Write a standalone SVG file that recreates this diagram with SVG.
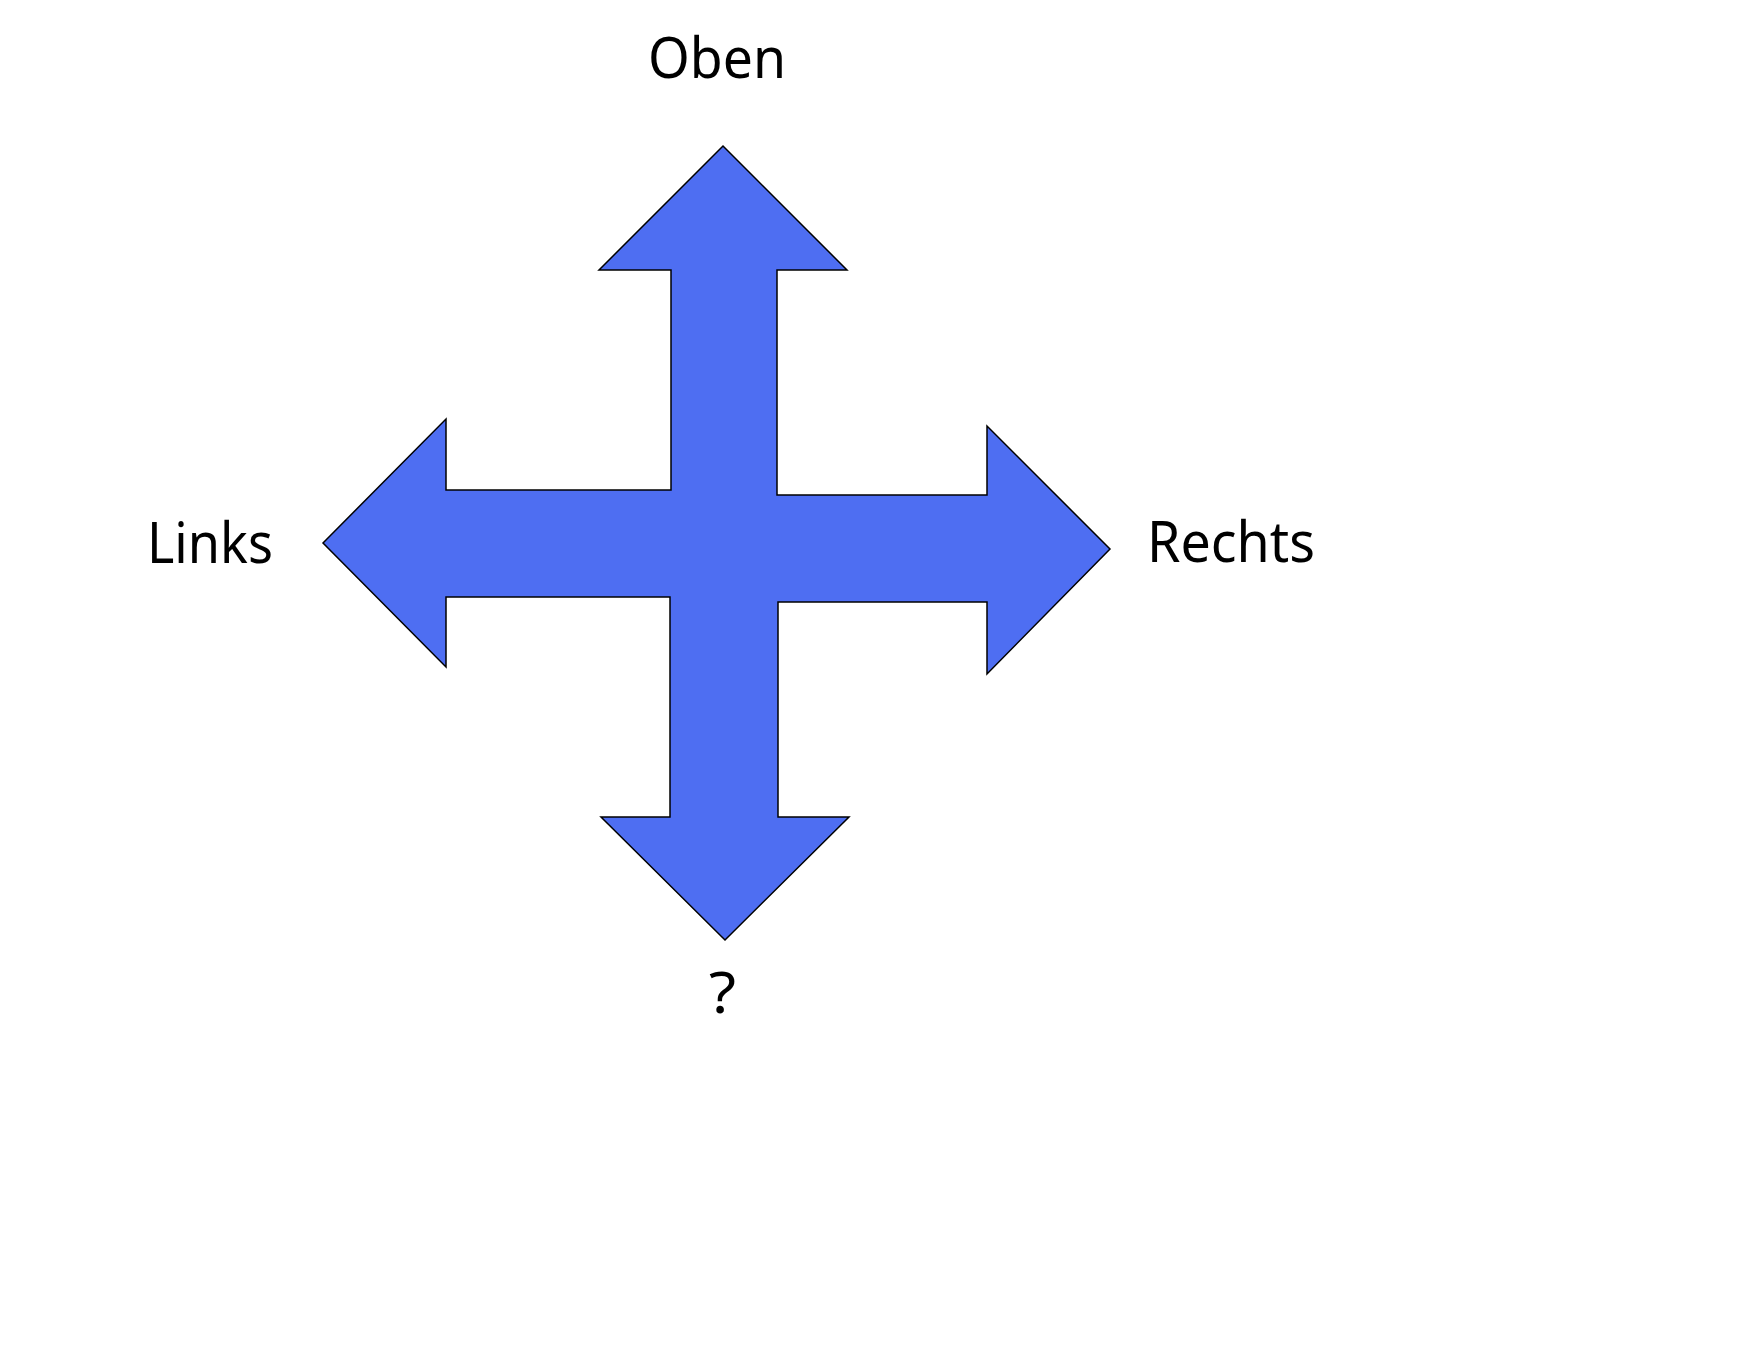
<svg xmlns="http://www.w3.org/2000/svg" width="1752" height="1360" viewBox="0 0 1752 1360">
<style>
.lbl{font-family:"Noto Sans","Open Sans","Liberation Sans",sans-serif;font-size:57px;fill:#000}
.arrow{fill:#4E6EF2;stroke:#000;stroke-width:1.5;stroke-linejoin:miter}
</style>
<rect width="1752" height="1360" fill="#fff"/>
<g id="cross-arrow">
<polygon class="arrow" points="723,146 847,270 777,270 777,495 987,495 987,426 1110,549 987,674 987,602 778,602 778,817 849,817 725,940 601,817 670,817 670,597 446,597 446,667 323,543 446,419 446,490 671,490 671,270 599,270"/>
</g>
<g id="label-oben"><text class="lbl" x="648" y="78" textLength="138" lengthAdjust="spacingAndGlyphs">Oben</text></g>
<g id="label-links"><text class="lbl" x="147" y="563" textLength="126" lengthAdjust="spacingAndGlyphs">Links</text></g>
<g id="label-rechts"><text class="lbl" x="1147" y="562" textLength="168" lengthAdjust="spacingAndGlyphs">Rechts</text></g>
<g id="label-unten"><text class="lbl" x="709" y="1013" textLength="27" lengthAdjust="spacingAndGlyphs">?</text></g>
</svg>
